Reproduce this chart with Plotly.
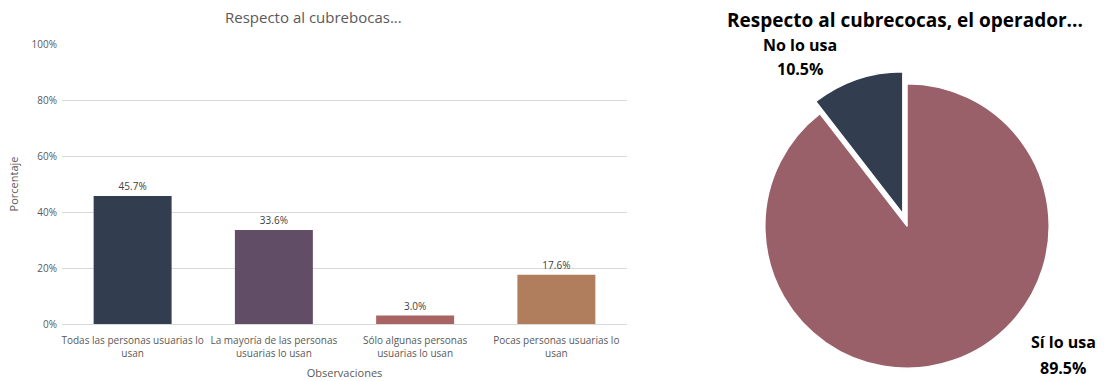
import plotly.graph_objects as go

# Bar chart data
categories = [
    "Todas las personas usuarias lo<br>usan",
    "La mayoría de las personas<br>usuarias lo usan",
    "Sólo algunas personas<br>usuarias lo usan",
    "Pocas personas usuarias lo<br>usan",
]
bar_values = [45.7, 33.6, 3.0, 17.6]
bar_colors = ["#323D50", "#614D65", "#A86462", "#B07E5C"]
y_ticks = [0, 20, 40, 60, 80, 100]
y_tick_labels = ["0%", "20%", "40%", "60%", "80%", "100%"]

# Pie chart data
pie_labels = ["Sí lo usa", "No lo usa"]
pie_values = [89.5, 10.5]
pie_colors = ["#9A606A", "#323D50"]
pie_pull = [0, 0.09]

FONT = "Open Sans"
W, H = 1107, 381

fig = go.Figure()

fig.add_trace(go.Bar(
    x=categories, y=bar_values,
    marker=dict(color=bar_colors, line=dict(width=0)),
    texttemplate="%{y:.1f}%", textposition="outside",
    textfont=dict(size=10, color="#404040", family=FONT),
    cliponaxis=False, showlegend=False, hoverinfo="skip",
))

fig.add_trace(go.Pie(
    labels=pie_labels, values=pie_values, sort=False, direction="clockwise",
    rotation=0, pull=pie_pull, textinfo="none",
    marker=dict(colors=pie_colors, line=dict(color="white", width=1.5)),
    domain=dict(x=[(907 - 160) / W, (907 + 160) / W], y=[0, 310 / H]),
    showlegend=False, hoverinfo="skip",
))


def px(x):
    return x / W


def py(y):
    return (H - y) / H


def label(text, x, y, size, color, bold=False):
    return dict(text=f"<b>{text}</b>" if bold else text, x=px(x), y=py(y),
                xref="paper", yref="paper", xanchor="center", yanchor="middle",
                showarrow=False, font=dict(size=size, color=color, family=FONT))


fig.update_layout(
    width=W, height=H,
    margin=dict(l=0, r=0, t=0, b=0, autoexpand=False),
    paper_bgcolor="white", plot_bgcolor="white",
    font=dict(family=FONT, color="#595959"),
    bargap=0.448,
    xaxis=dict(
        domain=[px(62), px(627)], automargin=False,
        tickfont=dict(size=10, color="#595959"),
        showline=True, linecolor="#D9D9D9", linewidth=1,
        ticks="", showgrid=False, ticklabelstandoff=7,
        title=dict(text="Observaciones", font=dict(size=11, color="#595959"), standoff=10),
    ),
    yaxis=dict(
        domain=[py(324), py(44)], automargin=False,
        range=[0, 100], tickvals=y_ticks, ticktext=y_tick_labels,
        tickfont=dict(size=10, color="#595959"),
        showgrid=True, gridcolor="#D9D9D9", gridwidth=1,
        zeroline=False, showline=False, ticks="",
        ticklabelstandoff=4,
        title=dict(text="Porcentaje", font=dict(size=11, color="#595959"), standoff=10),
    ),
    annotations=[
        label("Respecto al cubrebocas...", 313, 17, 15, "#595959"),
        label("Respecto al cubrecocas, el operador...", 905, 20, 19, "black", True),
        label("No lo usa", 800, 45, 16, "black", True),
        label("10.5%", 800, 69, 16, "black", True),
        label("Sí lo usa", 1063, 342, 16, "black", True),
        label("89.5%", 1063, 368, 16, "black", True),
    ],
)

fig.write_html("out.html", config={"displayModeBar": False},
               post_script="document.body.style.margin='0';")
